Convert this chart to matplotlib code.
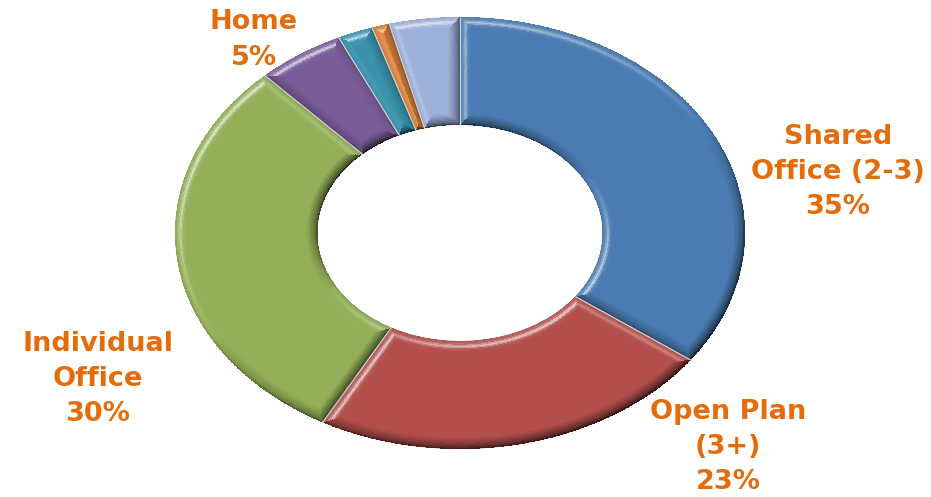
import matplotlib
matplotlib.use("Agg")
import matplotlib.pyplot as plt
import numpy as np
from matplotlib.colors import to_rgb

# donut shares, clockwise from 12 o'clock
values = [35, 23, 30, 5, 2, 1, 4]
colors = ["#4A7CB3", "#B34E4B", "#93B058", "#7A5C99", "#3A93AE", "#D9803A", "#9CB0D9"]
labels = ["Shared\nOffice (2-3)\n35%", "Open Plan\n(3+)\n23%", "Individual\nOffice\n30%", "Home\n5%"]
label_xy = [(838, 172), (728, 447), (98, 379), (254, 40)]

W, H = 931, 497
CX, CY, RX, RY = 460, 233, 285, 216
INNER = 0.5
BAND = 12.0
LIGHT = np.array([-0.6, 0.8])


def edge_normals(a0, a1, th):
    """Pixel-space normals for the four sides of a slice, as (nx, ny)."""
    gx, gy = np.sin(th) / RX, np.cos(th) / RY
    g = np.hypot(gx, gy)
    outer = (gx / g, gy / g)
    inner = (-gx / g, -gy / g)
    start = np.array([-RY * np.cos(a0), RX * np.sin(a0)]) / np.hypot(RX * np.sin(a0), RY * np.cos(a0))
    end = np.array([RY * np.cos(a1), -RX * np.sin(a1)]) / np.hypot(RX * np.sin(a1), RY * np.cos(a1))
    return outer, inner, start, end, g


def bevel_colors(color, a0, a1, th, r):
    # th, r are cell centres; shade each cell from its nearest side
    outer, inner, start, end, g = edge_normals(a0, a1, th)
    px, py = RX * r * np.sin(th), RY * r * np.cos(th)
    dists = np.stack([(1 - r) / g, (r - INNER) / g,
                      -(px * start[0] + py * start[1]),
                      -(px * end[0] + py * end[1])])
    nx = np.stack([outer[0], inner[0], np.full_like(r, start[0]), np.full_like(r, end[0])])
    ny = np.stack([outer[1], inner[1], np.full_like(r, start[1]), np.full_like(r, end[1])])
    k = np.argmin(dists, axis=0)
    d = np.take_along_axis(dists, k[None], 0)[0]
    f = (np.take_along_axis(nx, k[None], 0)[0] * LIGHT[0]
         + np.take_along_axis(ny, k[None], 0)[0] * LIGHT[1])

    fall = np.clip(1 - d / BAND, 0, 1)
    dark = np.clip(-f, 0, 1) ** 0.7 * 0.64 * fall ** 1.2 + 0.14 * np.clip(1 - d / 2.5, 0, 1)
    ridge = np.exp(-((d - 5.5) / 1.8) ** 2)
    lite = np.clip(f, 0, 1) * (0.16 * fall + 0.6 * ridge)

    rgb = np.array(to_rgb(color))[None, None, :] * np.ones(r.shape + (3,))
    rgb = rgb * (1 - dark[..., None])
    rgb = rgb + (1 - rgb) * lite[..., None]
    return np.clip(rgb, 0, 1)


fig = plt.figure(figsize=(W / 100, H / 100), dpi=100)
ax = fig.add_axes([0, 0, 1, 1])

ax.pie(values, colors=colors, startangle=90, counterclock=False, radius=1.0,
       wedgeprops=dict(width=1 - INNER, linewidth=0))

edges = np.concatenate([[0], np.cumsum(values)]) / np.sum(values) * 2 * np.pi
for color, a0, a1 in zip(colors, edges[:-1], edges[1:]):
    n_th = max(12, int((a1 - a0) * 285))
    th_e = np.linspace(a0, a1, n_th + 1)
    r_e = np.linspace(INNER, 1.0, 90)
    TH, R = np.meshgrid(th_e, r_e)
    th_c = 0.5 * (th_e[:-1] + th_e[1:])
    r_c = 0.5 * (r_e[:-1] + r_e[1:])
    TC, RC = np.meshgrid(th_c, r_c)
    ax.pcolormesh(R * np.sin(TH), R * np.cos(TH), bevel_colors(color, a0, a1, TC, RC),
                  shading="flat", antialiased=False, zorder=2)

# pale separators between slices
for a in edges[1:]:
    ax.plot([INNER * np.sin(a), np.sin(a)], [INNER * np.cos(a), np.cos(a)],
            color="#D4D4D4", lw=0.9, solid_capstyle="butt", zorder=5)

ax.set_aspect("auto")
ax.set_xlim(-CX / RX, (W - CX) / RX)
ax.set_ylim(-(H - CY) / RY, CY / RY)
ax.axis("off")

for text, (x, y) in zip(labels, label_xy):
    fig.text(x / W, 1 - y / H, text, ha="center", va="center", color="#E46C0A",
             fontsize=19.5, fontweight="bold", linespacing=1.47, family="DejaVu Sans")

fig.savefig("out.png", dpi=100, facecolor="white")
